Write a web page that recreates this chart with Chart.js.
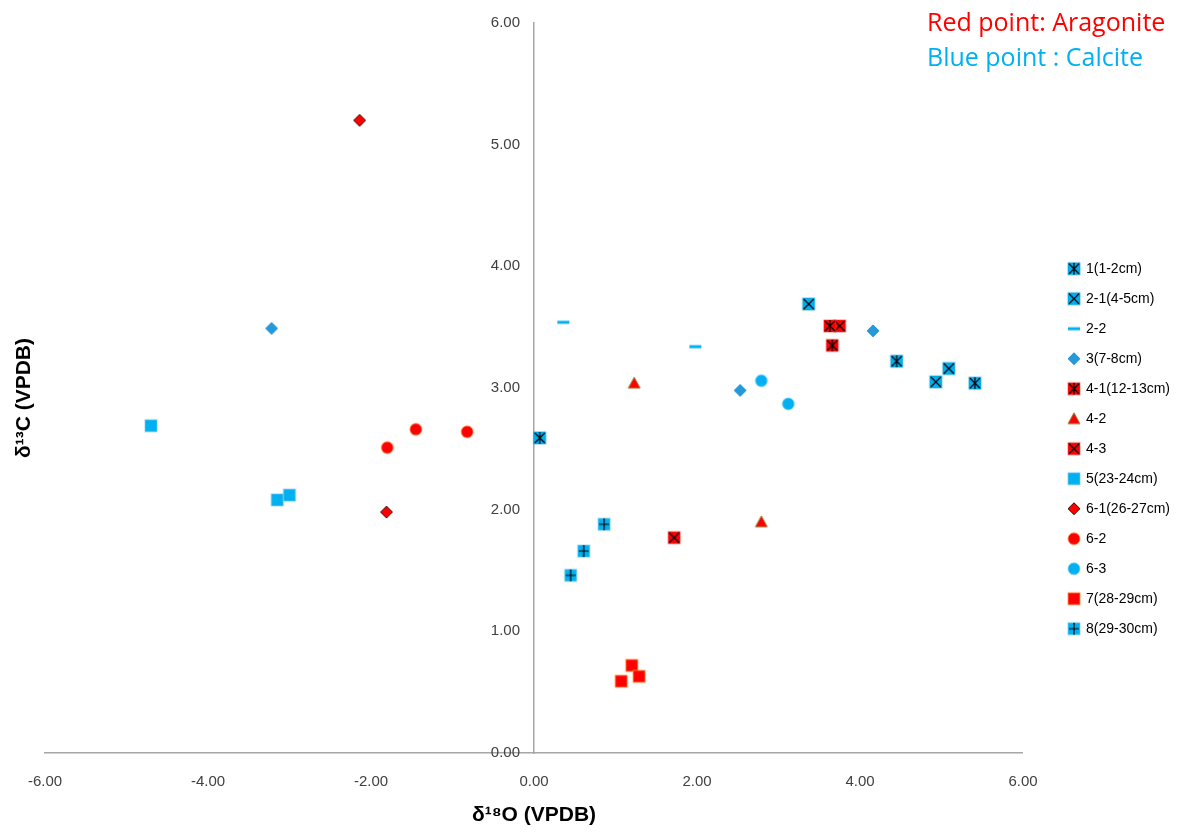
<!DOCTYPE html>
<html>
<head>
<meta charset="utf-8">
<script src="https://cdn.jsdelivr.net/npm/chart.js@4.4.1/dist/chart.umd.min.js"></script>
<style>
  html, body { margin: 0; padding: 0; background: #fff; }
  #wrap { width: 1190px; height: 832px; position: relative; }
</style>
</head>
<body>
<div id="wrap"><canvas id="grafico"></canvas></div>
<script>
// Datos (x = δ18O, y = δ13C)
const labels = ['1(1-2cm)', '2-1(4-5cm)', '2-2', '3(7-8cm)', '4-1(12-13cm)', '4-2', '4-3',
  '5(23-24cm)', '6-1(26-27cm)', '6-2', '6-3', '7(28-29cm)', '8(29-30cm)'];

const s1x = [0.07, 4.45, 5.41];       const s1y = [2.59, 3.22, 3.04];
const s21x = [3.37, 5.09, 4.93];      const s21y = [3.69, 3.16, 3.05];
const s22x = [0.36, 1.98];            const s22y = [3.54, 3.34];
const s3x = [-3.22, 4.16, 2.53];      const s3y = [3.49, 3.47, 2.98];
const s41x = [3.63, 3.66];            const s41y = [3.51, 3.35];
const s42x = [1.23, 2.79];            const s42y = [3.04, 1.90];
const s43x = [3.75, 1.72];            const s43y = [3.51, 1.77];
const s5x = [-4.70, -3.15, -3.00];    const s5y = [2.69, 2.08, 2.12];
const s61x = [-2.14, -1.81];          const s61y = [5.20, 1.98];
const s62x = [-1.80, -1.45, -0.82];   const s62y = [2.51, 2.66, 2.64];
const s63x = [2.79, 3.12];            const s63y = [3.06, 2.87];
const s7x = [1.07, 1.20, 1.29];       const s7y = [0.59, 0.72, 0.63];
const s8x = [0.45, 0.61, 0.86];       const s8y = [1.46, 1.66, 1.88];

const xTicks = [-6, -4, -2, 0, 2, 4, 6];
const yTicks = [0, 1, 2, 3, 4, 5, 6];

const BLUE = 'rgb(0, 176, 240)';
const BLUE2 = 'rgb(38, 153, 218)';
const RED = 'rgb(255, 0, 0)';

// Marcadores tipo Excel dibujados en canvas pequeños
function marker(shape, fill, line, extra) {
  const c = document.createElement('canvas');
  c.width = 16; c.height = 16;
  const g = c.getContext('2d');
  g.translate(8, 8);
  g.fillStyle = fill;
  g.strokeStyle = line;
  g.lineWidth = 1;
  if (shape === 'square') {
    g.fillRect(-6, -6, 12, 12);
    g.strokeRect(-6, -6, 12, 12);
  } else if (shape === 'circle') {
    g.beginPath(); g.arc(0, 0, 6, 0, Math.PI * 2); g.fill(); g.stroke();
  } else if (shape === 'diamond') {
    g.beginPath(); g.moveTo(0, -6); g.lineTo(6, 0); g.lineTo(0, 6); g.lineTo(-6, 0); g.closePath();
    g.fill(); g.stroke();
  } else if (shape === 'triangle') {
    g.beginPath(); g.moveTo(0, -6); g.lineTo(6, 5); g.lineTo(-6, 5); g.closePath();
    g.fill(); g.stroke();
  } else if (shape === 'dash') {
    g.fillRect(-6, -1.5, 12, 3);
  }
  g.strokeStyle = '#000';
  g.lineWidth = 1.2;
  g.beginPath();
  if (extra.includes('x')) { g.moveTo(-5, -5); g.lineTo(5, 5); g.moveTo(5, -5); g.lineTo(-5, 5); }
  if (extra.includes('v')) { g.moveTo(0, -6); g.lineTo(0, 6); }
  if (extra.includes('+')) { g.moveTo(-5, 0); g.lineTo(5, 0); g.moveTo(0, -6); g.lineTo(0, 6); }
  g.stroke();
  return c;
}

const styles = [
  marker('square', BLUE, 'rgba(0,150,210,0.6)', 'xv'),
  marker('square', BLUE, 'rgba(0,150,210,0.6)', 'x'),
  marker('dash', BLUE, BLUE, ''),
  marker('diamond', BLUE2, BLUE2, ''),
  marker('square', RED, 'rgba(230,60,60,0.6)', 'xv'),
  marker('triangle', RED, 'rgb(150,130,60)', ''),
  marker('square', RED, 'rgba(230,60,60,0.6)', 'x'),
  marker('square', BLUE, 'rgba(120,200,240,0.7)', ''),
  marker('diamond', RED, 'rgb(60,20,20)', ''),
  marker('circle', RED, 'rgba(255,140,60,0.7)', ''),
  marker('circle', BLUE, 'rgba(120,200,240,0.7)', ''),
  marker('square', RED, 'rgba(255,150,60,0.8)', ''),
  marker('square', BLUE, 'rgba(120,200,240,0.7)', '+')
];

const xs = [s1x, s21x, s22x, s3x, s41x, s42x, s43x, s5x, s61x, s62x, s63x, s7x, s8x];
const ys = [s1y, s21y, s22y, s3y, s41y, s42y, s43y, s5y, s61y, s62y, s63y, s7y, s8y];

const datasets = labels.map((lab, i) => ({
  label: lab,
  data: xs[i].map((v, j) => ({ x: v, y: ys[i][j] })),
  pointStyle: styles[i],
  pointRadius: 7,
  pointHoverRadius: 7
}));

// El eje Y se dibuja cruzando en x = 0
const yAxisAtZero = {
  id: 'yAxisAtZero',
  afterLayout(chart) {
    const y = chart.scales.y;
    const x0 = chart.scales.x.getPixelForValue(0);
    y.right = x0;
    y.left = x0 - 60;
    y.width = 60;
  }
};

// Textos extra: título del eje Y y nota arriba a la derecha
const extras = {
  id: 'extras',
  afterDraw(chart) {
    const ctx = chart.ctx;
    ctx.save();
    ctx.font = 'bold 21px "Liberation Sans", "DejaVu Sans", sans-serif';
    ctx.fillStyle = '#000';
    ctx.textAlign = 'center';
    ctx.textBaseline = 'middle';
    ctx.translate(24, 398);
    ctx.rotate(-Math.PI / 2);
    ctx.fillText('δ¹³C (VPDB)', 0, 0);
    ctx.restore();

    ctx.save();
    ctx.font = '25px "Open Sans", sans-serif';
    ctx.textAlign = 'left';
    ctx.textBaseline = 'alphabetic';
    ctx.fillStyle = RED;
    ctx.fillText('Red point: Aragonite', 927, 31);
    ctx.fillStyle = BLUE;
    ctx.fillText('Blue point : Calcite', 927, 66);
    ctx.restore();
  }
};

const tickFont = { family: '"Liberation Sans", sans-serif', size: 15 };

const config = {
  type: 'scatter',
  data: { datasets },
  options: {
    responsive: true,
    maintainAspectRatio: false,
    animation: false,
    layout: { padding: { left: 45, top: 21, right: 10, bottom: 0 } },
    plugins: {
      legend: {
        display: true,
        position: 'right',
        title: { display: true, text: '', padding: { top: 15, bottom: 15 } },
        labels: {
          usePointStyle: true,
          boxWidth: 10,
          padding: 16,
          color: '#000',
          font: { family: '"Liberation Sans", sans-serif', size: 14 }
        }
      },
      tooltip: { enabled: false }
    },
    scales: {
      x: {
        type: 'linear',
        min: -6, max: 6,
        afterBuildTicks: (s) => { s.ticks = xTicks.map(v => ({ value: v })); },
        afterFit: (s) => { s.height = 79; },
        grid: { display: false, drawTicks: false },
        border: { display: true, color: '#a6a6a6', width: 1.5 },
        ticks: {
          padding: 20,
          color: '#404040',
          font: tickFont,
          callback: (v) => v.toFixed(2)
        },
        title: {
          display: true,
          text: 'δ¹⁸O (VPDB)',
          color: '#000',
          padding: { top: 4, bottom: 4 },
          font: { family: '"Liberation Sans", "DejaVu Sans", sans-serif', size: 21, weight: 'bold' }
        }
      },
      y: {
        type: 'linear',
        position: 'left',
        min: 0, max: 6,
        afterBuildTicks: (s) => { s.ticks = yTicks.map(v => ({ value: v })); },
        afterFit: (s) => { s.width = 0; },
        grid: { display: false, drawTicks: false },
        border: { display: true, color: '#a6a6a6', width: 1.5 },
        ticks: {
          padding: 14,
          color: '#404040',
          font: tickFont,
          callback: (v) => v.toFixed(2)
        }
      },
      spacer: {
        type: 'linear',
        position: 'right',
        display: true,
        grid: { display: false },
        border: { display: false },
        ticks: { display: false },
        afterFit: (s) => { s.width = 30; }
      }
    }
  },
  plugins: [yAxisAtZero, extras]
};

window.addEventListener('DOMContentLoaded', () => {
  const ctx = document.getElementById('grafico').getContext('2d');
  new Chart(ctx, config);
});
</script>
</body>
</html>
